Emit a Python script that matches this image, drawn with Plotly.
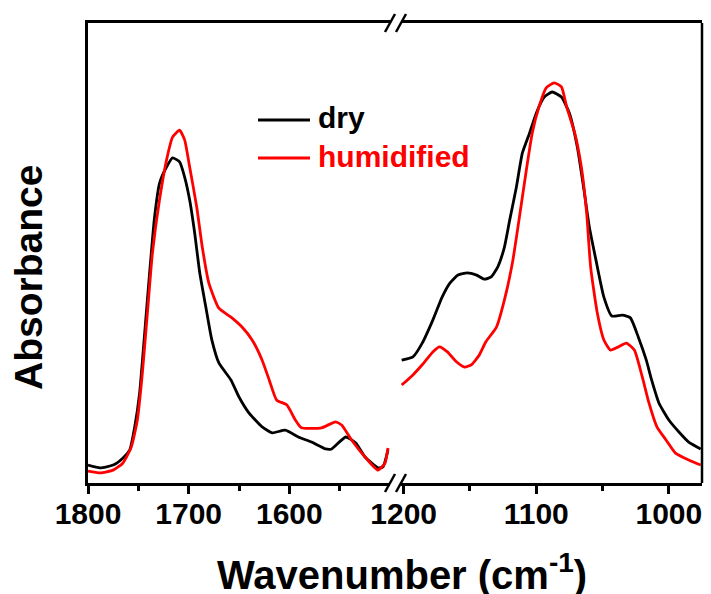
import plotly.graph_objects as go

# ---- FTIR absorbance, C=O stretching region (1800-1500 cm-1) ----
wn_co = [1800, 1788, 1775, 1765.5, 1758.5, 1753.6, 1748.7, 1743.7, 1738.8, 1733.9,
         1728.9, 1722, 1716, 1709, 1704, 1699, 1694, 1689, 1683, 1677,
         1670, 1658, 1650, 1640, 1627, 1617, 1604, 1591, 1578, 1564,
         1558, 1544, 1534, 1525, 1512, 1507, 1502]
abs_co_dry = [0.039, 0.033, 0.039, 0.054, 0.072, 0.122, 0.196, 0.326, 0.457, 0.578,
              0.652, 0.687, 0.707, 0.698, 0.665, 0.615, 0.543, 0.457, 0.383, 0.311,
              0.261, 0.224, 0.187, 0.152, 0.122, 0.109, 0.115, 0.100, 0.089, 0.074,
              0.074, 0.100, 0.087, 0.057, 0.033, 0.035, 0.072]

wn_co_hum = [1800, 1788, 1775, 1765.5, 1757, 1751, 1746, 1741, 1736, 1729,
             1722, 1716, 1709, 1704, 1699, 1692, 1686.5, 1680, 1670, 1657,
             1647, 1637, 1627, 1620, 1612.5, 1602.6, 1594, 1588, 1568, 1554,
             1548, 1538, 1525, 1512, 1505, 1502]
abs_co_hum = [0.026, 0.022, 0.028, 0.043, 0.078, 0.137, 0.239, 0.370, 0.500, 0.615,
              0.702, 0.752, 0.767, 0.746, 0.687, 0.600, 0.513, 0.435, 0.380, 0.359,
              0.339, 0.311, 0.267, 0.224, 0.180, 0.170, 0.137, 0.120, 0.120, 0.133,
              0.126, 0.093, 0.057, 0.028, 0.043, 0.076]

# ---- FTIR absorbance, C-O / S-O region (1200-975 cm-1) ----
wn_so_dry = [1201.5, 1193, 1186, 1178, 1171, 1165, 1159, 1152, 1145, 1139,
             1134, 1129, 1124, 1120, 1115, 1110.5, 1105, 1100, 1094, 1088,
             1081, 1075, 1069, 1064, 1060, 1055, 1049, 1043, 1035, 1029,
             1023, 1017, 1013, 1007.5, 1000, 992.4, 985, 976]
abs_so_dry = [0.267, 0.274, 0.304, 0.354, 0.404, 0.435, 0.452, 0.457, 0.452, 0.443,
              0.448, 0.470, 0.513, 0.572, 0.643, 0.717, 0.761, 0.804, 0.839, 0.850,
              0.839, 0.804, 0.730, 0.637, 0.557, 0.485, 0.404, 0.363, 0.365, 0.359,
              0.317, 0.267, 0.224, 0.174, 0.137, 0.111, 0.089, 0.074]

wn_so_hum = [1201.5, 1193, 1186, 1178, 1173, 1167, 1160, 1154, 1149, 1143,
             1138, 1130, 1124, 1118, 1113, 1107.5, 1103, 1098, 1092.5, 1086.5,
             1081, 1077, 1071, 1066, 1062, 1059, 1054, 1049, 1044, 1038,
             1032, 1026, 1020, 1015, 1009, 1002, 995, 985, 976]
abs_so_hum = [0.213, 0.235, 0.257, 0.285, 0.296, 0.285, 0.263, 0.252, 0.257, 0.278,
              0.307, 0.339, 0.398, 0.478, 0.572, 0.680, 0.761, 0.817, 0.859, 0.870,
              0.861, 0.817, 0.761, 0.687, 0.587, 0.470, 0.370, 0.311, 0.289, 0.296,
              0.304, 0.289, 0.230, 0.174, 0.122, 0.093, 0.065, 0.050, 0.039]

series_names = ["dry", "humidified"]
series_colors = ["#000000", "#ff0000"]

left_ticks = [1800, 1700, 1600]
left_minor = [1750, 1650, 1550]
right_ticks = [1200, 1100, 1000]
right_minor = [1150, 1050]

W, H = 711, 594
FONT = "Arial, Liberation Sans, sans-serif"
LW = 2.8


def px(x):
    return x / W


def py(y):
    return 1 - y / H


fig = go.Figure()

panels = [
    ("x", [(wn_co, abs_co_dry), (wn_co_hum, abs_co_hum)]),
    ("x2", [(wn_so_dry, abs_so_dry), (wn_so_hum, abs_so_hum)]),
]
for xref, pairs in panels:
    for (wx, ay), name, color in zip(pairs, series_names, series_colors):
        fig.add_trace(go.Scatter(
            x=wx, y=ay, xaxis=xref, yaxis="y", mode="lines", name=name,
            line=dict(color=color, width=LW, shape="spline", smoothing=0.5),
            showlegend=False, hoverinfo="skip",
        ))

axis_common = dict(
    showline=True, linecolor="black", linewidth=2.5, mirror=True,
    ticks="outside", ticklen=8, tickwidth=2.5, tickcolor="black",
    ticklabelstandoff=-6,
    showgrid=False, zeroline=False, anchor="y", automargin=False,
    tickfont=dict(family=FONT, size=30, color="black", weight="bold"),
)

fig.update_layout(
    width=W, height=H, autosize=False, showlegend=False,
    margin=dict(l=0, r=0, t=0, b=0, pad=0, autoexpand=False),
    paper_bgcolor="white", plot_bgcolor="white",
    xaxis=dict(domain=[px(88), px(390)], range=[1800, 1500],
               tickvals=left_ticks,
               minor=dict(tickvals=left_minor, ticks="outside", ticklen=5,
                          tickwidth=2.5, tickcolor="black", showgrid=False),
               **axis_common),
    xaxis2=dict(domain=[px(401), px(702)], range=[1202, 975],
                tickvals=right_ticks,
                minor=dict(tickvals=right_minor, ticks="outside", ticklen=5,
                           tickwidth=2.5, tickcolor="black", showgrid=False),
                **axis_common),
    yaxis=dict(domain=[py(483), py(23)], range=[0, 1], anchor="x",
               showline=True, linecolor="black", linewidth=2.5, automargin=False,
               showticklabels=False, ticks="", showgrid=False, zeroline=False),
)

shapes = []
# right-hand frame edge
shapes.append(dict(type="line", xref="paper", yref="paper",
                   x0=px(702), x1=px(702), y0=py(483), y1=py(23),
                   line=dict(color="black", width=2.5)))
# axis-break marks on top and bottom edges
for yb in (23, 483):
    for xc in (390, 401):
        shapes.append(dict(type="line", xref="paper", yref="paper",
                           x0=px(xc - 5), y0=py(yb + 9), x1=px(xc + 5), y1=py(yb - 9),
                           line=dict(color="black", width=2.5)))
# legend samples
for yl, color in zip((120, 158), series_colors):
    shapes.append(dict(type="line", xref="paper", yref="paper",
                       x0=px(258), x1=px(310), y0=py(yl), y1=py(yl),
                       line=dict(color=color, width=LW)))
fig.update_layout(shapes=shapes)

annotations = []
for yl, name, color in zip((118, 156), series_names, series_colors):
    annotations.append(dict(
        text=name, xref="paper", yref="paper", x=px(316), y=py(yl),
        xanchor="left", yanchor="middle", showarrow=False,
        font=dict(family=FONT, size=30, color=color, weight="bold")))
annotations.append(dict(
    text="Absorbance", xref="paper", yref="paper", x=px(28), y=py(278),
    xanchor="center", yanchor="middle", textangle=-90, showarrow=False,
    font=dict(family=FONT, size=39, color="black", weight="bold")))
annotations.append(dict(
    text="Wavenumber (cm<sup>-1</sup>)", xref="paper", yref="paper",
    x=px(402), y=py(572), xanchor="center", yanchor="middle", showarrow=False,
    font=dict(family=FONT, size=40, color="black", weight="bold")))
fig.update_layout(annotations=annotations)

fig.write_html("out.html")
